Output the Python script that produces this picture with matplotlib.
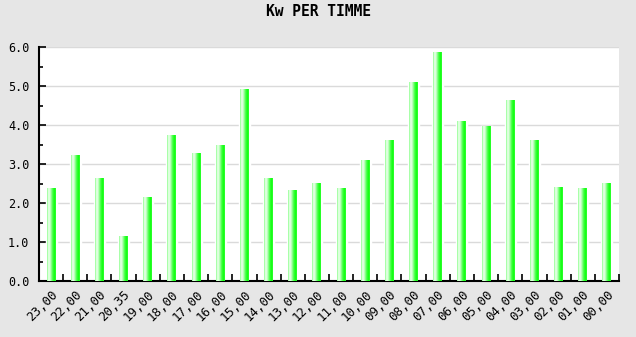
import matplotlib
matplotlib.use('Agg')
import matplotlib.pyplot as plt
import numpy as np
from matplotlib.colors import LinearSegmentedColormap

# hourly values
hours = ['23,00', '22,00', '21,00', '20,35', '19,00', '18,00', '17,00', '16,00',
         '15,00', '14,00', '13,00', '12,00', '11,00', '10,00', '09,00', '08,00',
         '07,00', '06,00', '05,00', '04,00', '03,00', '02,00', '01,00', '00,00']
kw = [2.38, 3.21, 2.62, 1.15, 2.15, 3.74, 3.28, 3.47,
      4.90, 2.62, 2.33, 2.51, 2.36, 3.08, 3.59, 5.08,
      5.85, 4.10, 3.95, 4.64, 3.59, 2.41, 2.38, 2.51]
y_ticks = [0.0, 1.0, 2.0, 3.0, 4.0, 5.0, 6.0]

bg = '#e6e6e6'
fig = plt.figure(figsize=(6.36, 3.37), dpi=100, facecolor=bg)
ax = fig.add_axes([39 / 636, 56 / 337, 580 / 636, 234 / 337])
ax.set_facecolor('white')

# shaded green, like a cylinder lit from the left
shade = LinearSegmentedColormap.from_list('shade', [
    (0.0, '#90ff90'), (0.2, '#f2fff2'), (0.38, '#c0ffc0'),
    (0.6, '#55ff55'), (0.82, '#10ff10'), (1.0, '#30ff30')])
grad = np.linspace(0, 1, 64).reshape(1, -1)

x = np.arange(len(hours))
bars = ax.bar(x, kw, width=0.37, color='white', edgecolor='white',
              linewidth=2.5, zorder=2)
for b in bars:
    ax.imshow(grad, cmap=shade, aspect='auto', zorder=3,
              extent=[b.get_x(), b.get_x() + b.get_width(), 0, b.get_height()])

ax.set_xlim(-0.5, len(hours) - 0.5)
ax.set_ylim(0, 6)

ax.set_yticks(y_ticks)
ax.set_yticklabels(['%.1f' % v for v in y_ticks], family='DejaVu Sans Mono', fontsize=8.5)
ax.set_yticks(np.arange(0.5, 6, 1.0), minor=True)
ax.yaxis.grid(True, color='#dadada', linewidth=1.0, zorder=1)
ax.set_axisbelow(True)

ax.set_xticks(x)
ax.set_xticklabels(hours, rotation=45, ha='right', rotation_mode='anchor',
                   family='DejaVu Sans Mono', fontsize=9)
ax.set_xticks(x + 0.5, minor=True)

ax.tick_params(axis='x', which='major', length=0, pad=5)
ax.tick_params(axis='x', which='minor', direction='in', length=5, width=1.2)
ax.tick_params(axis='y', which='major', direction='in', length=5, width=1.2, pad=7)
ax.tick_params(axis='y', which='minor', direction='in', length=3, width=1.2)

for side in ('top', 'right'):
    ax.spines[side].set_visible(False)
for side in ('left', 'bottom'):
    ax.spines[side].set_linewidth(1.5)

fig.text(318 / 636, 1 - 12 / 337, 'Kw PER TIMME', ha='center', va='center',
         family='DejaVu Sans Mono', fontweight='bold', fontsize=10.5)

fig.savefig('out.png', dpi=100, facecolor=bg)
